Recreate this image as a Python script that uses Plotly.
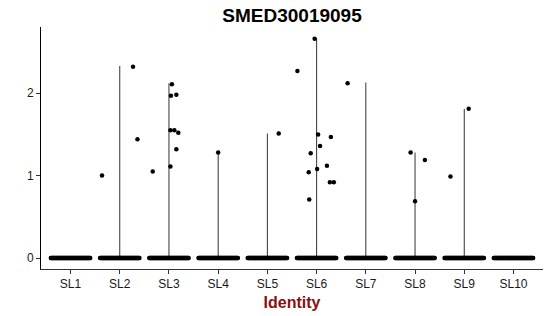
import numpy as np
import plotly.graph_objects as go

clusters = ["SL1", "SL2", "SL3", "SL4", "SL5", "SL6", "SL7", "SL8", "SL9", "SL10"]
# maximum expression per cluster (violin extent)
vmax = [0.0, 2.33, 2.12, 1.28, 1.51, 2.67, 2.13, 1.28, 1.81, 0.0]
# non-zero cells: values and horizontal jitter
nz_values = {
    "SL2": [1.00, 2.32, 1.44],
    "SL3": [1.05, 2.11, 1.97, 1.98, 1.55, 1.55, 1.52, 1.32, 1.11],
    "SL4": [1.28],
    "SL5": [1.51],
    "SL6": [2.66, 2.27, 1.50, 1.47, 1.36, 1.27, 1.04, 1.08, 1.12, 0.92, 0.92, 0.71],
    "SL7": [2.12],
    "SL8": [1.28, 1.19, 0.69],
    "SL9": [1.81, 0.99],
}
nz_jitter = {
    "SL2": [-0.36, 0.27, 0.36],
    "SL3": [-0.33, 0.06, 0.04, 0.15, 0.03, 0.11, 0.19, 0.15, 0.03],
    "SL4": [0.0],
    "SL5": [0.23],
    "SL6": [-0.04, -0.39, 0.03, 0.29, 0.07, -0.12, -0.16, 0.01, 0.21, 0.27, 0.35, -0.15],
    "SL7": [-0.37],
    "SL8": [-0.09, 0.20, 0.0],
    "SL9": [0.09, -0.28],
}
jitter_width = 0.4
n_zero = 80

fig = go.Figure()

# violins (degenerate: thin vertical lines)
for i, c in enumerate(clusters):
    if vmax[i] > 0:
        fig.add_trace(go.Scatter(x=[i, i], y=[0, vmax[i]], mode="lines",
                                 line=dict(color="#333333", width=1),
                                 hoverinfo="skip", showlegend=False))

# zero-valued cells (dense band)
for i, c in enumerate(clusters):
    xs = i + np.linspace(-jitter_width, jitter_width, n_zero)
    fig.add_trace(go.Scatter(x=xs, y=np.zeros(n_zero), mode="markers",
                             marker=dict(color="black", size=4.5),
                             hoverinfo="skip", showlegend=False))

# non-zero cells
for i, c in enumerate(clusters):
    if c in nz_values:
        xs = [i + j for j in nz_jitter[c]]
        fig.add_trace(go.Scatter(x=xs, y=nz_values[c], mode="markers",
                                 marker=dict(color="black", size=4.5),
                                 showlegend=False))

fig.update_layout(
    width=550, height=316,
    margin=dict(l=41, r=7, t=27, b=45),
    paper_bgcolor="white", plot_bgcolor="white",
    font=dict(family="Liberation Sans, Arial, sans-serif", color="black"),
    title=dict(text="<b>SMED30019095</b>", x=(41 + 543) / 2 / 550, xanchor="center",
               y=1 - 15.5 / 316, yanchor="middle", font=dict(size=19, color="black")),
    xaxis=dict(range=[-0.6, 9.6], tickmode="array", tickvals=list(range(len(clusters))),
               ticktext=clusters, showgrid=False, zeroline=False,
               showline=True, linecolor="#333333", linewidth=1,
               ticks="outside", ticklen=4, tickcolor="#333333",
               tickfont=dict(size=12, color="#1a1a1a"),
               title=dict(text="<b>Identity</b>", font=dict(size=16, color="#8B0F0F"), standoff=6)),
    yaxis=dict(range=[-0.1335, 2.8035], tickvals=[0, 1, 2], showgrid=False, zeroline=False,
               showline=True, linecolor="black", linewidth=1,
               ticks="outside", ticklen=4, tickcolor="#333333",
               tickfont=dict(size=12, color="#1a1a1a")),
)

fig.write_html("out.html")
